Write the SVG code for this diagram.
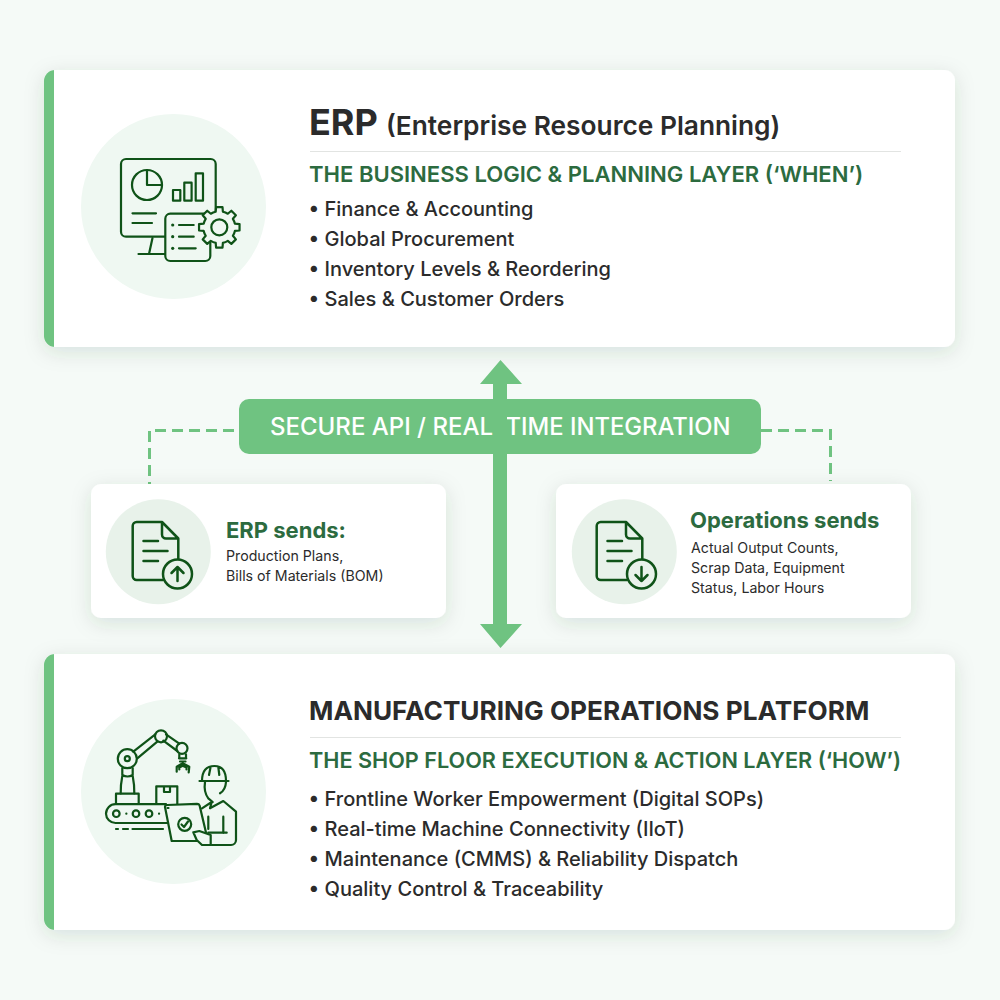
<svg xmlns="http://www.w3.org/2000/svg" width="1000" height="1000" viewBox="0 0 1000 1000">
<style>
text{font-family:Inter,"Liberation Sans",sans-serif}
.h{font-weight:700;fill:#2b2b2b}
.sub{font-size:22.050px;font-weight:600;fill:#2c6b3f}
.li{font-size:20.030px;font-weight:500;fill:#2b2b2b}
.sh{font-size:22px;font-weight:700;fill:#2c6b3f}
.sm{font-size:14.200px;font-weight:400;fill:#2b2b2b}
.ic{fill:none;stroke:#0f5318;stroke-width:2.200;stroke-linecap:round;stroke-linejoin:round}
.ic2{stroke-width:2.500}
.card{fill:#fff;filter:url(#sh)}
.bar{fill:#6fc381}
.tint{fill:#eff8f2}
.tint2{fill:#e8f2ea}
.dash{fill:none;stroke:#6fc381;stroke-width:3;stroke-dasharray:11 6}
</style>
<defs>
<filter id="sh" x="-10%" y="-20%" width="120%" height="140%"><feDropShadow dx="0" dy="5" stdDeviation="10" flood-color="#1d4a2a" flood-opacity="0.13"/></filter>
<clipPath id="c1"><rect x="44" y="70" width="911" height="277" rx="11"/></clipPath>
<clipPath id="c2"><rect x="44" y="654" width="911" height="276" rx="11"/></clipPath>
<g id="doc">
<path class="ic ic2" d="M162 522H136.700a4 4 0 0 0-4 4V576a4 4 0 0 0 4 4H163M162 522L178.300 538.500V560M162 522V534.500a4 4 0 0 0 4 4H178.300"/>
<path class="ic ic2" d="M143.500 541H158M143.500 551H167.500M143.500 561H158"/>
<circle class="ic ic2" cx="177.500" cy="574" r="14.500" style="fill:#e8f2ea"/>
</g>
</defs>
<rect width="1000" height="1000" fill="#f5faf7"/>
<g id="connectors">
<path class="dash" d="M234 430.500H149.500V484"/>
<path class="dash" d="M761 430.500H830.500V481"/>
</g>
<g id="erp">
<rect class="card" x="44" y="70" width="911" height="277" rx="11"/>
<rect class="bar" x="44" y="70" width="10" height="277" clip-path="url(#c1)"/>
<circle class="tint" cx="173.500" cy="206.500" r="92.500"/>
<g class="ic">
<rect x="121" y="159" width="94.700" height="77.700" rx="5"/>
<circle cx="147" cy="185" r="15"/><path d="M147 170V185H162"/>
<rect x="173" y="190" width="7.300" height="10.700"/><rect x="184.300" y="182.700" width="7.300" height="18"/><rect x="195.700" y="173.300" width="7.300" height="27.400"/>
<path d="M132.500 213.300H156M132.500 223H152M152.500 238L149 254M138.500 254H165"/>
<rect x="165.300" y="213.700" width="45" height="47.300" rx="5" style="fill:#eff8f2"/>
<path d="M179 225H193.700M179 236.700H193.700M179 248.300H195.700"/>
<path style="fill:#eff8f2" transform="translate(219.300 227.300)" d="M-3.600-15.600L-3.200-20.250H3.200L3.600-15.600A16 16 0 0 1 8.490-13.580L12.060-16.580L16.580-12.060L13.580-8.490A16 16 0 0 1 15.600-3.600L20.250-3.200V3.200L15.600 3.600A16 16 0 0 1 13.580 8.490L16.580 12.060L12.060 16.580L8.490 13.580A16 16 0 0 1 3.600 15.600L3.200 20.250H-3.200L-3.600 15.600A16 16 0 0 1-8.490 13.580L-12.060 16.580L-16.580 12.060L-13.580 8.490A16 16 0 0 1-15.600 3.600L-20.250 3.200V-3.200L-15.600-3.600A16 16 0 0 1-13.580-8.490L-16.580-12.060L-12.060-16.580L-8.490-13.580A16 16 0 0 1-3.600-15.600Z"/>
<circle cx="219.300" cy="227.300" r="8"/>
</g>
<circle cx="172.700" cy="225" r="1.600" fill="#0f5318"/><circle cx="172.700" cy="236.700" r="1.600" fill="#0f5318"/><circle cx="172.700" cy="248.300" r="1.600" fill="#0f5318"/>
<text class="h" x="309" y="135" font-size="36">ERP</text>
<text x="386" y="135" font-size="26.300" font-weight="600" fill="#2b2b2b">(Enterprise Resource Planning)</text>
<path d="M310 151.500H901" stroke="#e2e4e2" stroke-width="1"/>
<text class="sub" x="309" y="182">THE BUSINESS LOGIC &amp; PLANNING LAYER (‘WHEN’)</text>
<text class="li" x="308.500" y="216">• Finance &amp; Accounting</text>
<text class="li" x="308.500" y="246">• Global Procurement</text>
<text class="li" x="308.500" y="276">• Inventory Levels &amp; Reordering</text>
<text class="li" x="308.500" y="306">• Sales &amp; Customer Orders</text>
</g>
<g id="erp-sends">
<rect class="card" x="91" y="484" width="355" height="134" rx="10"/>
<circle class="tint2" cx="158.300" cy="551.700" r="52.500"/>
<use href="#doc"/>
<path class="ic ic2" d="M177.500 581V567M171.500 573L177.500 567L183.500 573"/>
<text class="sh" x="226" y="537.500">ERP sends:</text>
<text class="sm" x="226" y="560.500">Production Plans,</text>
<text class="sm" x="226" y="581">Bills of Materials (BOM)</text>
</g>
<g id="ops-sends">
<rect class="card" x="556" y="484" width="355" height="134" rx="10"/>
<circle class="tint2" cx="624.300" cy="551.700" r="52.500"/>
<use href="#doc" x="464"/>
<path class="ic ic2" d="M641.500 567V581M635.500 575L641.500 581L647.500 575"/>
<text class="sh" x="690" y="528">Operations sends</text>
<text class="sm" x="691" y="553">Actual Output Counts,</text>
<text class="sm" x="691" y="573">Scrap Data, Equipment</text>
<text class="sm" x="691" y="593">Status, Labor Hours</text>
</g>
<g id="integration">
<rect x="239" y="399" width="522" height="55" rx="10" fill="#6fc381"/>
<text x="270" y="435" font-size="24" font-weight="500" fill="#fff">SECURE API / REAL</text>
<text x="505.500" y="435" font-size="23.800" font-weight="500" fill="#fff">TIME INTEGRATION</text>
</g>
<g id="sync-arrow">
<path fill="#6fc381" d="M500.500 360L522 384H507V624H522L500.500 648L480 624H493V384H480Z"/>
</g>
<g id="mop">
<rect class="card" x="44" y="654" width="911" height="276" rx="11"/>
<rect class="bar" x="44" y="654" width="10" height="276" clip-path="url(#c2)"/>
<circle class="tint" cx="173.500" cy="791.500" r="92.500"/>
<g class="ic">
<path d="M133.300 751.700L155.300 734.300M137.300 758.300L157.300 741.700M166 734.300L179.300 743.700M163.300 740.700L177.300 751"/>
<circle cx="127.300" cy="758.700" r="9.500"/><circle cx="127.300" cy="758.700" r="2.500"/>
<circle cx="161" cy="736.300" r="6"/><circle cx="182" cy="748.300" r="5.500"/>
<path d="M122.300 768V775M132.700 768V775M122.300 775Q127.500 778 132.700 775M122.300 776Q120.500 785 120.700 793.500M132.700 776Q134.500 785 134.300 793.500"/>
<path d="M116 804V793.700H138.700V804"/>
<path d="M179.300 754.300V758.300M186 754.300V758.300M179 758.300H186.300M180 761.500H185.500M182.700 761.500V763.300M176.700 771.700V766.700L182.700 763.300L189.300 766.700L188.700 772.300M179.300 769.500V767.500L182.700 765.700L186.500 767.500V769.500"/>
<path d="M106 813.700a9.500 9.500 0 0 1 9.500-9.500H166M168 823H115.500a9.500 9.500 0 0 1-9.500-9.300"/>
<circle cx="116.300" cy="813.700" r="3.300"/><circle cx="136" cy="813.700" r="3.300"/><circle cx="149" cy="813.700" r="3.300"/>
<path d="M116 829H118M123 829H128M132.500 829H163M126.300 813.700H126.400M159 813.700H159.100"/>
<path d="M156.300 804V786.300H177.300V804M164 786.300V792H170V786.300"/>
<path style="fill:#eff8f2" d="M167 805L197 803.800Q199 803.800 199.600 805.500L208 841H171.700L165 807Q165 805 167 805Z"/>
<path d="M167.500 808H168.500"/>
<circle cx="184.700" cy="824.300" r="6.500"/><path d="M181.500 824.500L184 827L188 821.500"/>
<path d="M202 781Q202 766 214.500 766Q226 766 226 781M199.500 781H228.500M210.500 767.500L209 775M218.300 767L219.300 775"/>
<path d="M205 782Q203.500 792 208.300 798.300L212.700 802M226 782Q225.500 790 220 793.300"/>
<path d="M202 808.300L211.700 802L210 808.300L223.300 801L236 811.700V840a5 5 0 0 1-5 5H211.700"/>
<path d="M223.300 816.700V833M208.300 816.700V829M208.300 832.700H226.700"/>
<path style="fill:#eff8f2" d="M193.300 832.300L199.300 831L210.700 835V845H202L196.700 840Z"/>
</g>
<text class="h" x="309" y="720" font-size="26.200">MANUFACTURING OPERATIONS PLATFORM</text>
<path d="M310 737.500H901" stroke="#e2e4e2" stroke-width="1"/>
<text class="sub" x="309" y="768" style="font-size:21.650px">THE SHOP FLOOR EXECUTION &amp; ACTION LAYER (‘HOW’)</text>
<text class="li" x="308.500" y="806">• Frontline Worker Empowerment (Digital SOPs)</text>
<text class="li" x="308.500" y="836">• Real-time Machine Connectivity (IIoT)</text>
<text class="li" x="308.500" y="866">• Maintenance (CMMS) &amp; Reliability Dispatch</text>
<text class="li" x="308.500" y="896">• Quality Control &amp; Traceability</text>
</g>
</svg>
